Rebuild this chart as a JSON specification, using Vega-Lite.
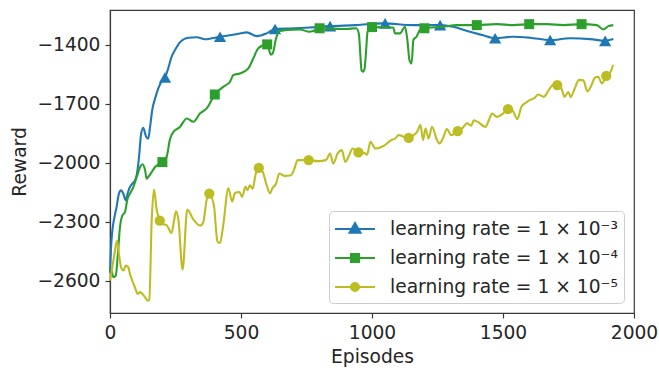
{
 "$schema": "https://vega.github.io/schema/vega-lite/v6.json",
 "width": 524, "height": 303,
 "autosize": {"type": "none"},
 "padding": {"left": 110, "top": 10, "right": 25, "bottom": 58},
 "config": {
  "view": {"stroke": "#3a3a3a", "strokeWidth": 1.2},
  "font": "DejaVu Sans",
  "axis": {"grid": false, "labelFlush": false, "domainColor": "#3a3a3a", "domainWidth": 1.2, "tickColor": "#3a3a3a", "tickSize": 5, "tickWidth": 1.2, "labelFontSize": 18.67, "labelColor": "#262626", "titleFontSize": 18.67, "titleColor": "#262626", "titleFontWeight": "normal", "labelFont": "DejaVu Sans", "titleFont": "DejaVu Sans"}
 },
 "datasets": {
  "lines": [
   {"s":"a","x":0,"y":-2560},{"s":"a","x":4,"y":-2430},{"s":"a","x":9,"y":-2345},{"s":"a","x":17,"y":-2277},{"s":"a","x":25,"y":-2226},{"s":"a","x":34,"y":-2158},{"s":"a","x":42,"y":-2141},{"s":"a","x":51,"y":-2158},{"s":"a","x":60,"y":-2192},{"s":"a","x":67,"y":-2158},{"s":"a","x":76,"y":-2124},{"s":"a","x":85,"y":-2107},{"s":"a","x":95,"y":-2090},{"s":"a","x":103,"y":-2056},{"s":"a","x":112,"y":-1954},{"s":"a","x":118,"y":-1861},{"s":"a","x":127,"y":-1822},{"s":"a","x":136,"y":-1861},{"s":"a","x":146,"y":-1878},{"s":"a","x":153,"y":-1818},{"s":"a","x":161,"y":-1733},{"s":"a","x":172,"y":-1674},{"s":"a","x":184,"y":-1623},{"s":"a","x":200,"y":-1580},{"s":"a","x":210,"y":-1566},{"s":"a","x":222,"y":-1521},{"s":"a","x":235,"y":-1461},{"s":"a","x":248,"y":-1427},{"s":"a","x":267,"y":-1388},{"s":"a","x":299,"y":-1364},{"s":"a","x":331,"y":-1362},{"s":"a","x":363,"y":-1372},{"s":"a","x":388,"y":-1367},{"s":"a","x":420,"y":-1359},{"s":"a","x":464,"y":-1350},{"s":"a","x":496,"y":-1343},{"s":"a","x":522,"y":-1337},{"s":"a","x":560,"y":-1356},{"s":"a","x":598,"y":-1342},{"s":"a","x":630,"y":-1320},{"s":"a","x":687,"y":-1317},{"s":"a","x":763,"y":-1312},{"s":"a","x":840,"y":-1305},{"s":"a","x":940,"y":-1300},{"s":"a","x":1043,"y":-1291},{"s":"a","x":1157,"y":-1300},{"s":"a","x":1260,"y":-1300},{"s":"a","x":1310,"y":-1308},{"s":"a","x":1374,"y":-1334},{"s":"a","x":1420,"y":-1350},{"s":"a","x":1470,"y":-1367},{"s":"a","x":1539,"y":-1359},{"s":"a","x":1603,"y":-1364},{"s":"a","x":1680,"y":-1376},{"s":"a","x":1756,"y":-1367},{"s":"a","x":1832,"y":-1371},{"s":"a","x":1890,"y":-1380},{"s":"a","x":1921,"y":-1371},
   {"s":"b","x":0,"y":-2540},{"s":"b","x":4,"y":-2541},{"s":"b","x":13,"y":-2583},{"s":"b","x":22,"y":-2575},{"s":"b","x":30,"y":-2464},{"s":"b","x":38,"y":-2328},{"s":"b","x":47,"y":-2269},{"s":"b","x":57,"y":-2252},{"s":"b","x":67,"y":-2184},{"s":"b","x":76,"y":-2158},{"s":"b","x":89,"y":-2124},{"s":"b","x":102,"y":-2073},{"s":"b","x":115,"y":-2022},{"s":"b","x":124,"y":-2008},{"s":"b","x":134,"y":-2039},{"s":"b","x":140,"y":-2082},{"s":"b","x":146,"y":-2073},{"s":"b","x":159,"y":-2048},{"s":"b","x":172,"y":-2022},{"s":"b","x":200,"y":-1997},{"s":"b","x":216,"y":-1971},{"s":"b","x":229,"y":-1880},{"s":"b","x":242,"y":-1844},{"s":"b","x":267,"y":-1818},{"s":"b","x":293,"y":-1775},{"s":"b","x":318,"y":-1792},{"s":"b","x":344,"y":-1749},{"s":"b","x":369,"y":-1724},{"s":"b","x":400,"y":-1653},{"s":"b","x":432,"y":-1614},{"s":"b","x":458,"y":-1588},{"s":"b","x":471,"y":-1554},{"s":"b","x":496,"y":-1546},{"s":"b","x":528,"y":-1520},{"s":"b","x":547,"y":-1469},{"s":"b","x":566,"y":-1418},{"s":"b","x":600,"y":-1398},{"s":"b","x":614,"y":-1450},{"s":"b","x":622,"y":-1440},{"s":"b","x":634,"y":-1367},{"s":"b","x":646,"y":-1330},{"s":"b","x":674,"y":-1325},{"s":"b","x":725,"y":-1322},{"s":"b","x":761,"y":-1334},{"s":"b","x":776,"y":-1330},{"s":"b","x":800,"y":-1316},{"s":"b","x":901,"y":-1320},{"s":"b","x":940,"y":-1316},{"s":"b","x":950,"y":-1345},{"s":"b","x":955,"y":-1440},{"s":"b","x":960,"y":-1530},{"s":"b","x":966,"y":-1537},{"s":"b","x":972,"y":-1520},{"s":"b","x":978,"y":-1420},{"s":"b","x":983,"y":-1334},{"s":"b","x":1000,"y":-1310},{"s":"b","x":1081,"y":-1312},{"s":"b","x":1088,"y":-1342},{"s":"b","x":1107,"y":-1342},{"s":"b","x":1126,"y":-1308},{"s":"b","x":1135,"y":-1376},{"s":"b","x":1143,"y":-1478},{"s":"b","x":1151,"y":-1495},{"s":"b","x":1158,"y":-1376},{"s":"b","x":1170,"y":-1359},{"s":"b","x":1183,"y":-1325},{"s":"b","x":1200,"y":-1316},{"s":"b","x":1272,"y":-1308},{"s":"b","x":1323,"y":-1300},{"s":"b","x":1400,"y":-1300},{"s":"b","x":1476,"y":-1295},{"s":"b","x":1539,"y":-1300},{"s":"b","x":1600,"y":-1295},{"s":"b","x":1667,"y":-1295},{"s":"b","x":1730,"y":-1300},{"s":"b","x":1800,"y":-1295},{"s":"b","x":1858,"y":-1300},{"s":"b","x":1883,"y":-1322},{"s":"b","x":1902,"y":-1305},{"s":"b","x":1921,"y":-1300},
   {"s":"c","x":0,"y":-2600},{"s":"c","x":9,"y":-2532},{"s":"c","x":19,"y":-2447},{"s":"c","x":27,"y":-2396},{"s":"c","x":34,"y":-2464},{"s":"c","x":42,"y":-2532},{"s":"c","x":51,"y":-2549},{"s":"c","x":60,"y":-2524},{"s":"c","x":70,"y":-2532},{"s":"c","x":76,"y":-2566},{"s":"c","x":85,"y":-2600},{"s":"c","x":95,"y":-2634},{"s":"c","x":106,"y":-2668},{"s":"c","x":115,"y":-2659},{"s":"c","x":124,"y":-2668},{"s":"c","x":134,"y":-2685},{"s":"c","x":144,"y":-2702},{"s":"c","x":150,"y":-2697},{"s":"c","x":159,"y":-2300},{"s":"c","x":168,"y":-2137},{"s":"c","x":178,"y":-2238},{"s":"c","x":190,"y":-2295},{"s":"c","x":200,"y":-2311},{"s":"c","x":216,"y":-2318},{"s":"c","x":235,"y":-2358},{"s":"c","x":245,"y":-2290},{"s":"c","x":252,"y":-2247},{"s":"c","x":261,"y":-2290},{"s":"c","x":277,"y":-2544},{"s":"c","x":295,"y":-2238},{"s":"c","x":318,"y":-2289},{"s":"c","x":344,"y":-2320},{"s":"c","x":356,"y":-2303},{"s":"c","x":369,"y":-2188},{"s":"c","x":379,"y":-2157},{"s":"c","x":397,"y":-2222},{"s":"c","x":410,"y":-2400},{"s":"c","x":420,"y":-2409},{"s":"c","x":432,"y":-2320},{"s":"c","x":452,"y":-2130},{"s":"c","x":466,"y":-2198},{"s":"c","x":477,"y":-2154},{"s":"c","x":494,"y":-2149},{"s":"c","x":504,"y":-2174},{"s":"c","x":517,"y":-2123},{"s":"c","x":525,"y":-2140},{"s":"c","x":534,"y":-2115},{"s":"c","x":545,"y":-2132},{"s":"c","x":555,"y":-2064},{"s":"c","x":568,"y":-2027},{"s":"c","x":583,"y":-2047},{"s":"c","x":598,"y":-2115},{"s":"c","x":611,"y":-2157},{"s":"c","x":619,"y":-2132},{"s":"c","x":634,"y":-2106},{"s":"c","x":646,"y":-2055},{"s":"c","x":665,"y":-2067},{"s":"c","x":691,"y":-2064},{"s":"c","x":704,"y":-2030},{"s":"c","x":716,"y":-1987},{"s":"c","x":758,"y":-1987},{"s":"c","x":793,"y":-1992},{"s":"c","x":824,"y":-1987},{"s":"c","x":840,"y":-1953},{"s":"c","x":852,"y":-2004},{"s":"c","x":869,"y":-1953},{"s":"c","x":885,"y":-1936},{"s":"c","x":898,"y":-1996},{"s":"c","x":913,"y":-1962},{"s":"c","x":926,"y":-1928},{"s":"c","x":948,"y":-1948},{"s":"c","x":971,"y":-1950},{"s":"c","x":981,"y":-1960},{"s":"c","x":994,"y":-1894},{"s":"c","x":1013,"y":-1928},{"s":"c","x":1038,"y":-1919},{"s":"c","x":1049,"y":-1911},{"s":"c","x":1073,"y":-1885},{"s":"c","x":1089,"y":-1877},{"s":"c","x":1102,"y":-1860},{"s":"c","x":1121,"y":-1868},{"s":"c","x":1140,"y":-1874},{"s":"c","x":1159,"y":-1860},{"s":"c","x":1172,"y":-1843},{"s":"c","x":1185,"y":-1809},{"s":"c","x":1195,"y":-1885},{"s":"c","x":1204,"y":-1826},{"s":"c","x":1216,"y":-1877},{"s":"c","x":1229,"y":-1817},{"s":"c","x":1248,"y":-1885},{"s":"c","x":1258,"y":-1902},{"s":"c","x":1273,"y":-1868},{"s":"c","x":1286,"y":-1829},{"s":"c","x":1302,"y":-1860},{"s":"c","x":1327,"y":-1840},{"s":"c","x":1344,"y":-1826},{"s":"c","x":1363,"y":-1800},{"s":"c","x":1379,"y":-1812},{"s":"c","x":1388,"y":-1784},{"s":"c","x":1403,"y":-1792},{"s":"c","x":1433,"y":-1818},{"s":"c","x":1446,"y":-1784},{"s":"c","x":1458,"y":-1750},{"s":"c","x":1477,"y":-1767},{"s":"c","x":1500,"y":-1750},{"s":"c","x":1519,"y":-1728},{"s":"c","x":1538,"y":-1738},{"s":"c","x":1555,"y":-1778},{"s":"c","x":1570,"y":-1716},{"s":"c","x":1583,"y":-1699},{"s":"c","x":1602,"y":-1682},{"s":"c","x":1621,"y":-1670},{"s":"c","x":1634,"y":-1653},{"s":"c","x":1656,"y":-1665},{"s":"c","x":1672,"y":-1636},{"s":"c","x":1691,"y":-1605},{"s":"c","x":1707,"y":-1605},{"s":"c","x":1723,"y":-1622},{"s":"c","x":1735,"y":-1665},{"s":"c","x":1749,"y":-1640},{"s":"c","x":1758,"y":-1665},{"s":"c","x":1774,"y":-1622},{"s":"c","x":1789,"y":-1580},{"s":"c","x":1806,"y":-1580},{"s":"c","x":1822,"y":-1636},{"s":"c","x":1838,"y":-1605},{"s":"c","x":1850,"y":-1568},{"s":"c","x":1863,"y":-1563},{"s":"c","x":1878,"y":-1597},{"s":"c","x":1894,"y":-1558},{"s":"c","x":1911,"y":-1537},{"s":"c","x":1920,"y":-1503}
  ],
  "marks": [
   {"s":"a","x":210,"y":-1566},{"s":"a","x":420,"y":-1359},{"s":"a","x":630,"y":-1320},{"s":"a","x":840,"y":-1305},{"s":"a","x":1050,"y":-1291},{"s":"a","x":1260,"y":-1300},{"s":"a","x":1470,"y":-1367},{"s":"a","x":1680,"y":-1376},{"s":"a","x":1890,"y":-1380},
   {"s":"b","x":200,"y":-1997},{"s":"b","x":400,"y":-1653},{"s":"b","x":600,"y":-1398},{"s":"b","x":800,"y":-1316},{"s":"b","x":1000,"y":-1310},{"s":"b","x":1200,"y":-1316},{"s":"b","x":1400,"y":-1300},{"s":"b","x":1600,"y":-1295},{"s":"b","x":1800,"y":-1295},
   {"s":"c","x":190,"y":-2295},{"s":"c","x":379,"y":-2157},{"s":"c","x":568,"y":-2027},{"s":"c","x":758,"y":-1987},{"s":"c","x":948,"y":-1948},{"s":"c","x":1140,"y":-1874},{"s":"c","x":1327,"y":-1840},{"s":"c","x":1519,"y":-1728},{"s":"c","x":1707,"y":-1605},{"s":"c","x":1894,"y":-1558}
  ]
 },
 "encoding": {
  "x": {"field": "x", "type": "quantitative", "scale": {"domain": [0, 2000], "nice": false}, "axis": {"values": [0, 500, 1000, 1500, 2000], "format": "d", "title": "Episodes", "labelFlush": false, "labelPadding": 5, "titlePadding": 6}},
  "y": {"field": "y", "type": "quantitative", "scale": {"domain": [-2765, -1223], "nice": false, "zero": false}, "axis": {"values": [-2600, -2300, -2000, -1700, -1400], "title": "Reward", "format": "d", "labelFlush": false, "labelPadding": 5, "titlePadding": 7}}
 },
 "layer": [
  {
   "data": {"name": "lines"},
   "transform": [{"filter": "datum.s === 'a'"}],
   "mark": {"type": "line", "strokeWidth": 2.1, "interpolate": "monotone"},
   "encoding": {
    "color": {"field": "s", "type": "nominal", "scale": {"domain": ["a", "b", "c"], "range": ["#1f77b4", "#2ca02c", "#bcbd22"]},
     "legend": {"title": null, "orient": "bottom-right", "offset": 10, "padding": 6, "fillColor": "rgba(255,255,255,0.8)", "strokeColor": "#cccccc", "cornerRadius": 4, "labelFontSize": 18.67, "labelColor": "#262626", "labelFont": "DejaVu Sans", "labelLimit": 0, "labelOffset": 31, "rowPadding": 7, "symbolSize": 484, "symbolStrokeWidth": 2,
      "labelExpr": "datum.value === 'a' ? 'learning rate = 1 × 10⁻³' : datum.value === 'b' ? 'learning rate = 1 × 10⁻⁴' : 'learning rate = 1 × 10⁻⁵'",
      "encode": {"symbols": {"update": {
        "shape": {"signal": "datum.value === 'a' ? 'M-1.0909,0L2.5455,0M0.7273,-0.55L1.2273,0.33L0.2273,0.33Z' : datum.value === 'b' ? 'M-1.0909,0L2.5455,0M0.3636,-0.3636L1.0909,-0.3636L1.0909,0.3636L0.3636,0.3636Z' : 'M-1.0909,0L2.5455,0M0.3636,0A0.3636,0.3636 0 1,0 1.0909,0A0.3636,0.3636 0 1,0 0.3636,0Z'"},
        "fill": {"scale": "color", "field": "value"},
        "stroke": {"scale": "color", "field": "value"},
        "strokeWidth": {"value": 2},
        "opacity": {"value": 1}
      }}}
     }
    }
   }
  },
  {
   "data": {"name": "marks"},
   "transform": [{"filter": "datum.s === 'a'"}],
   "mark": {"type": "point", "shape": "triangle-up", "filled": true, "size": 150, "opacity": 1, "color": "#1f77b4"}
  },
  {
   "data": {"name": "lines"},
   "transform": [{"filter": "datum.s === 'b'"}],
   "mark": {"type": "line", "strokeWidth": 2.1, "interpolate": "monotone"},
   "encoding": {"color": {"field": "s", "type": "nominal"}}
  },
  {
   "data": {"name": "marks"},
   "transform": [{"filter": "datum.s === 'b'"}],
   "mark": {"type": "point", "shape": "square", "filled": true, "size": 100, "opacity": 1, "color": "#2ca02c"}
  },
  {
   "data": {"name": "lines"},
   "transform": [{"filter": "datum.s === 'c'"}],
   "mark": {"type": "line", "strokeWidth": 2.1, "interpolate": "monotone"},
   "encoding": {"color": {"field": "s", "type": "nominal"}}
  },
  {
   "data": {"name": "marks"},
   "transform": [{"filter": "datum.s === 'c'"}],
   "mark": {"type": "point", "shape": "circle", "filled": true, "size": 105, "opacity": 1, "color": "#bcbd22"}
  }
 ]
}
